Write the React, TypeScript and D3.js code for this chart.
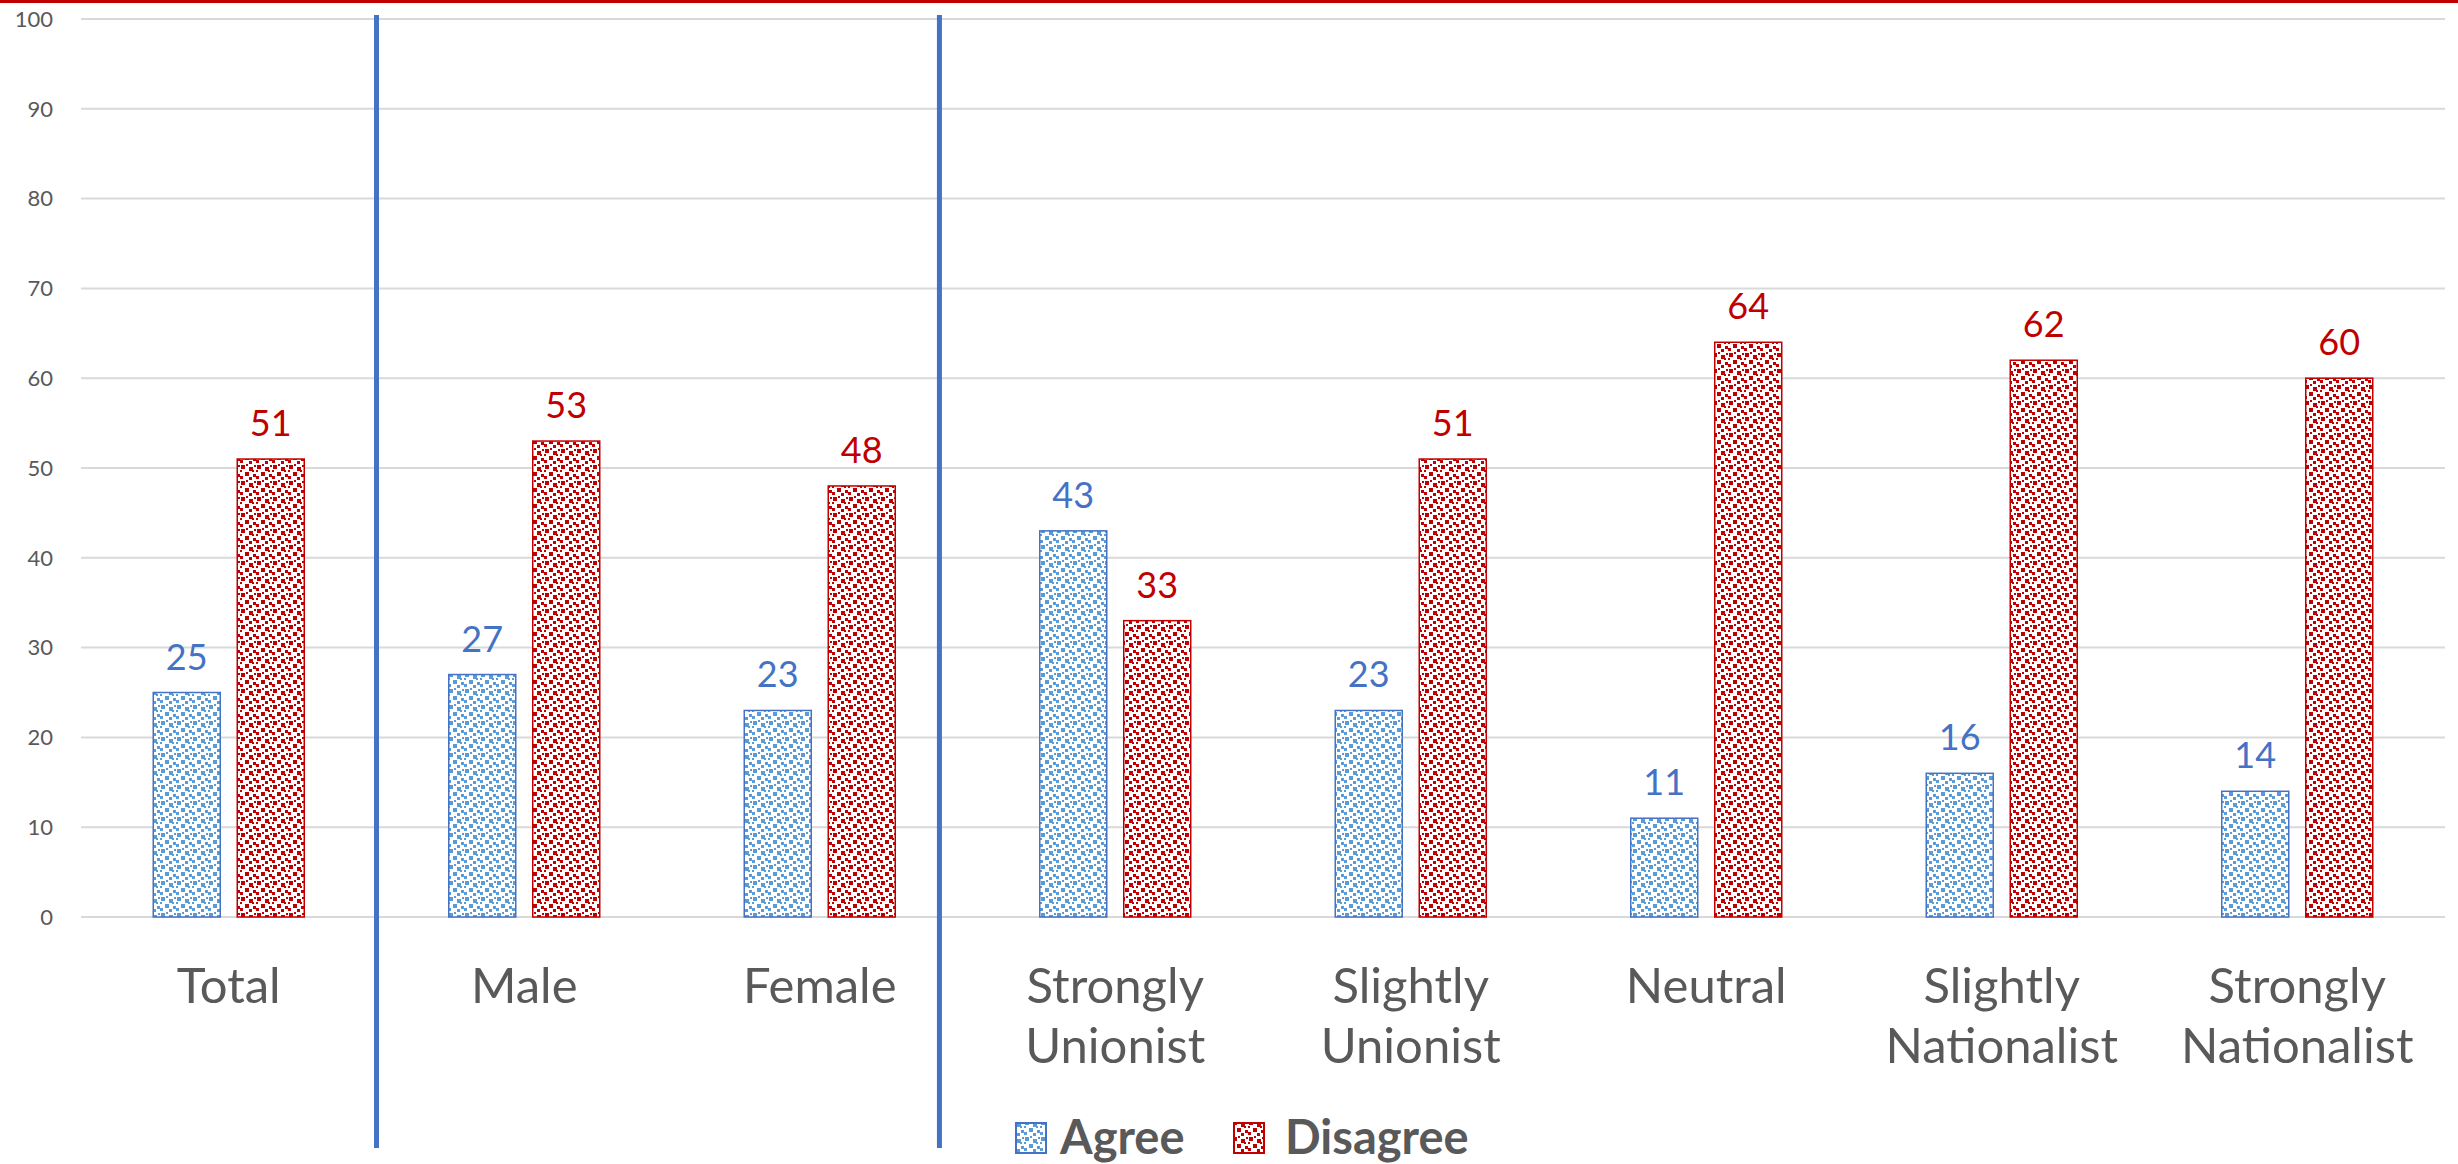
import React from "react";
import * as d3 from "d3";

const categories: string[][] = [
  ["Total"],
  ["Male"],
  ["Female"],
  ["Strongly", "Unionist"],
  ["Slightly", "Unionist"],
  ["Neutral"],
  ["Slightly", "Nationalist"],
  ["Strongly", "Nationalist"],
];
const agreeValues = [25, 27, 23, 43, 23, 11, 16, 14];
const disagreeValues = [51, 53, 48, 33, 51, 64, 62, 60];
const yTicks = [0, 10, 20, 30, 40, 50, 60, 70, 80, 90, 100];
const seriesNames = ["Agree", "Disagree"];
// separator positions, in category-band units from the left of the plot
const separatorsAt = [1.0, 2.905];

const W = 2458;
const H = 1164;
const FONT = "Lato, 'Open Sans', sans-serif";
const BLUE = "#4472C4";
const LIGHTBLUE = "#5B9BD5";
const RED = "#C00000";
const GREY = "#595959";

// confetti-like square positions within a 16x16 tile
const confetti: [number, number, number][] = [
  [1, 1, 4], [9, 3, 4], [5, 8, 4], [13, 10, 3], [0, 12, 3], [9, 13, 3],
  [6, 0, 2], [14, 1, 2], [12, 6, 2], [0, 6, 2],
];

function Pattern({ id, color }: { id: string; color: string }) {
  return (
    <pattern id={id} width={16} height={16} patternUnits="userSpaceOnUse">
      <rect width={16} height={16} fill="#fff" />
      {confetti.map(([x, y, s], i) => (
        <rect key={i} x={x} y={y} width={s} height={s} fill={color} />
      ))}
    </pattern>
  );
}

export default function App() {
  const left = 81;
  const right = 2445;
  const top = 19;
  const bottom = 917;
  const x = d3
    .scaleBand<number>()
    .domain(d3.range(categories.length))
    .range([left, right])
    .padding(0);
  const y = d3.scaleLinear().domain([0, 100]).range([bottom, top]);
  const barW = 67;
  const gap = 17;
  const series = [
    { name: seriesNames[0], values: agreeValues, fill: "url(#patA)", stroke: BLUE, text: BLUE, off: -gap / 2 - barW },
    { name: seriesNames[1], values: disagreeValues, fill: "url(#patD)", stroke: RED, text: RED, off: gap / 2 },
  ];
  const cx = (i: number) => (x(i) as number) + x.bandwidth() / 2;

  return (
    <svg
      width={W}
      height={H}
      style={{ position: "absolute", left: 0, top: 0, background: "#fff" }}
      fontFamily={FONT}
    >
      <defs>
        <Pattern id="patA" color={LIGHTBLUE} />
        <Pattern id="patD" color={RED} />
      </defs>
      <rect x={0} y={0} width={W} height={H} fill="#fff" />
      <rect x={0} y={0} width={W} height={3} fill={RED} />

      {yTicks.map((t) => (
        <g key={t}>
          <line x1={left} x2={right} y1={y(t)} y2={y(t)} stroke="#D9D9D9" strokeWidth={2} />
          <text x={53} y={y(t)} dy="0.35em" textAnchor="end" fontSize={22} fill={GREY}>
            {t}
          </text>
        </g>
      ))}

      {series.map((s) =>
        s.values.map((v, i) => {
          const bx = cx(i) + s.off;
          return (
            <g key={s.name + i}>
              <rect
                x={bx}
                y={y(v)}
                width={barW}
                height={y(0) - y(v)}
                fill={s.fill}
                stroke={s.stroke}
                strokeWidth={1.5}
              />
              <text
                x={bx + barW / 2}
                y={y(v) - 23}
                textAnchor="middle"
                fontSize={36}
                fill={s.text}
              >
                {v}
              </text>
            </g>
          );
        })
      )}

      {categories.map((lines, i) => (
        <text key={i} x={cx(i)} y={1003} textAnchor="middle" fontSize={49} fill={GREY}>
          {lines.map((l, j) => (
            <tspan key={j} x={cx(i)} dy={j === 0 ? 0 : 60}>
              {l}
            </tspan>
          ))}
        </text>
      ))}

      {separatorsAt.map((s, i) => (
        <rect
          key={i}
          x={left + x.step() * s - 2.5}
          y={15}
          width={5}
          height={1148 - 15}
          fill={BLUE}
        />
      ))}

      <g>
        {[
          { sx: 1016, tx: 1060, s: series[0] },
          { sx: 1234, tx: 1285, s: series[1] },
        ].map((l) => (
          <g key={l.s.name}>
            <rect x={l.sx} y={1123} width={30} height={30} fill={l.s.fill} stroke={l.s.stroke} strokeWidth={2} />
            <text x={l.tx} y={1154} fontSize={47} fontWeight="bold" fill={GREY}>
              {l.s.name}
            </text>
          </g>
        ))}
      </g>
    </svg>
  );
}
